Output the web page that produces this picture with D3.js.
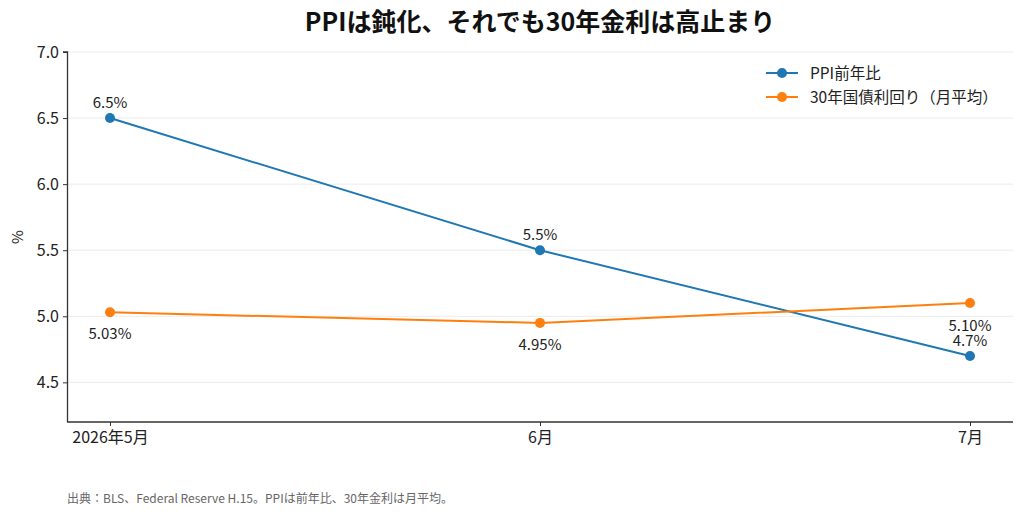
<!DOCTYPE html>
<html>
<head>
<meta charset="utf-8">
<script src="https://cdn.jsdelivr.net/npm/d3@7"></script>
<style>
  body { margin: 0; background: #fff; }
  text { font-family: "Noto Sans CJK JP", "Noto Sans", sans-serif; }
</style>
</head>
<body>
<script>
// data
var months = ["2026年5月", "6月", "7月"];
var ppi = [6.5, 5.5, 4.7];
var yield30 = [5.03, 4.95, 5.10];
var ppiLabels = ["6.5%", "5.5%", "4.7%"];
var yieldLabels = ["5.03%", "4.95%", "5.10%"];
var yTicks = [4.5, 5.0, 5.5, 6.0, 6.5, 7.0];

var W = 1024, H = 518;
var margin = {top: 52, right: 11, bottom: 96, left: 67};
var width = W - margin.left - margin.right,
    height = H - margin.top - margin.bottom;

var svg = d3.select("body").append("svg")
  .attr("width", W).attr("height", H);

var g = svg.append("g")
  .attr("transform", "translate(" + margin.left + "," + margin.top + ")");

var x = d3.scaleLinear().domain([-0.1, 2.1]).range([0, width]);
var y = d3.scaleLinear().domain([4.2, 7.0]).range([height, 0]);

// grid
g.append("g").selectAll("line").data(yTicks).enter().append("line")
  .attr("x1", 0).attr("x2", width)
  .attr("y1", function(d){ return y(d); })
  .attr("y2", function(d){ return y(d); })
  .attr("stroke", "#ebebeb").attr("stroke-width", 1);

// axes
var yAxis = g.append("g")
  .call(d3.axisLeft(y).tickValues(yTicks).tickFormat(d3.format(".1f")).tickSize(4).tickPadding(4));
var xAxis = g.append("g")
  .attr("transform", "translate(0," + height + ")")
  .call(d3.axisBottom(x).tickValues([0, 1, 2]).tickFormat(function(d){ return months[d]; }).tickSize(4).tickPadding(6));

[yAxis, xAxis].forEach(function(a){
  a.select(".domain").attr("stroke", "#333").attr("stroke-width", 1.3);
  a.selectAll(".tick line").attr("stroke", "#333");
  a.selectAll(".tick text").attr("fill", "#222").style("font-size", "16px")
    .style("font-family", "'Noto Sans CJK JP', sans-serif");
});
// left spine spans full height
yAxis.select(".domain").attr("d", "M-4,0H0.5V" + height);
xAxis.select(".domain").attr("d", "M0,0H" + width);

var series = [
  {name: "PPI前年比", vals: ppi, labels: ppiLabels, color: "#1f77b4", dy: [-10, -10, -10]},
  {name: "30年国債利回り（月平均）", vals: yield30, labels: yieldLabels, color: "#ff7f0e", dy: [27, 27, 28]}
];

var line = d3.line()
  .x(function(d, i){ return x(i); })
  .y(function(d){ return y(d); });

series.forEach(function(s){
  g.append("path").datum(s.vals)
    .attr("d", line)
    .attr("fill", "none")
    .attr("stroke", s.color)
    .attr("stroke-width", 2);
  g.append("g").selectAll("circle").data(s.vals).enter().append("circle")
    .attr("cx", function(d, i){ return x(i); })
    .attr("cy", function(d){ return y(d); })
    .attr("r", 5)
    .attr("fill", s.color);
  g.append("g").selectAll("text").data(s.vals).enter().append("text")
    .attr("x", function(d, i){ return x(i); })
    .attr("y", function(d, i){ return y(d) + s.dy[i]; })
    .attr("text-anchor", "middle")
    .style("font-size", "15px")
    .attr("fill", "#222")
    .text(function(d, i){ return s.labels[i]; });
});

// y label
svg.append("text")
  .attr("transform", "translate(23," + (margin.top + height / 2) + ") rotate(-90)")
  .attr("text-anchor", "middle")
  .style("font-size", "15px")
  .attr("fill", "#222")
  .text("%");

// title
svg.append("text")
  .attr("x", margin.left + width / 2).attr("y", 31)
  .attr("text-anchor", "middle")
  .style("font-size", "25px").style("font-weight", "bold")
  .attr("fill", "#111")
  .text("PPIは鈍化、それでも30年金利は高止まり");

// legend
var leg = svg.append("g").attr("transform", "translate(766,73)");
series.forEach(function(s, i){
  var row = leg.append("g").attr("transform", "translate(0," + (i * 24) + ")");
  row.append("line").attr("x1", 0).attr("x2", 32).attr("y1", 0).attr("y2", 0)
    .attr("stroke", s.color).attr("stroke-width", 2);
  row.append("circle").attr("cx", 16).attr("cy", 0).attr("r", 5).attr("fill", s.color);
  row.append("text").attr("x", 44).attr("y", 5.5)
    .style("font-size", "15.5px").attr("fill", "#222").text(s.name);
});

// source note
svg.append("text")
  .attr("x", 67).attr("y", 503)
  .style("font-size", "12px")
  .attr("fill", "#666")
  .text("出典：BLS、Federal Reserve H.15。PPIは前年比、30年金利は月平均。");
</script>
</body>
</html>
